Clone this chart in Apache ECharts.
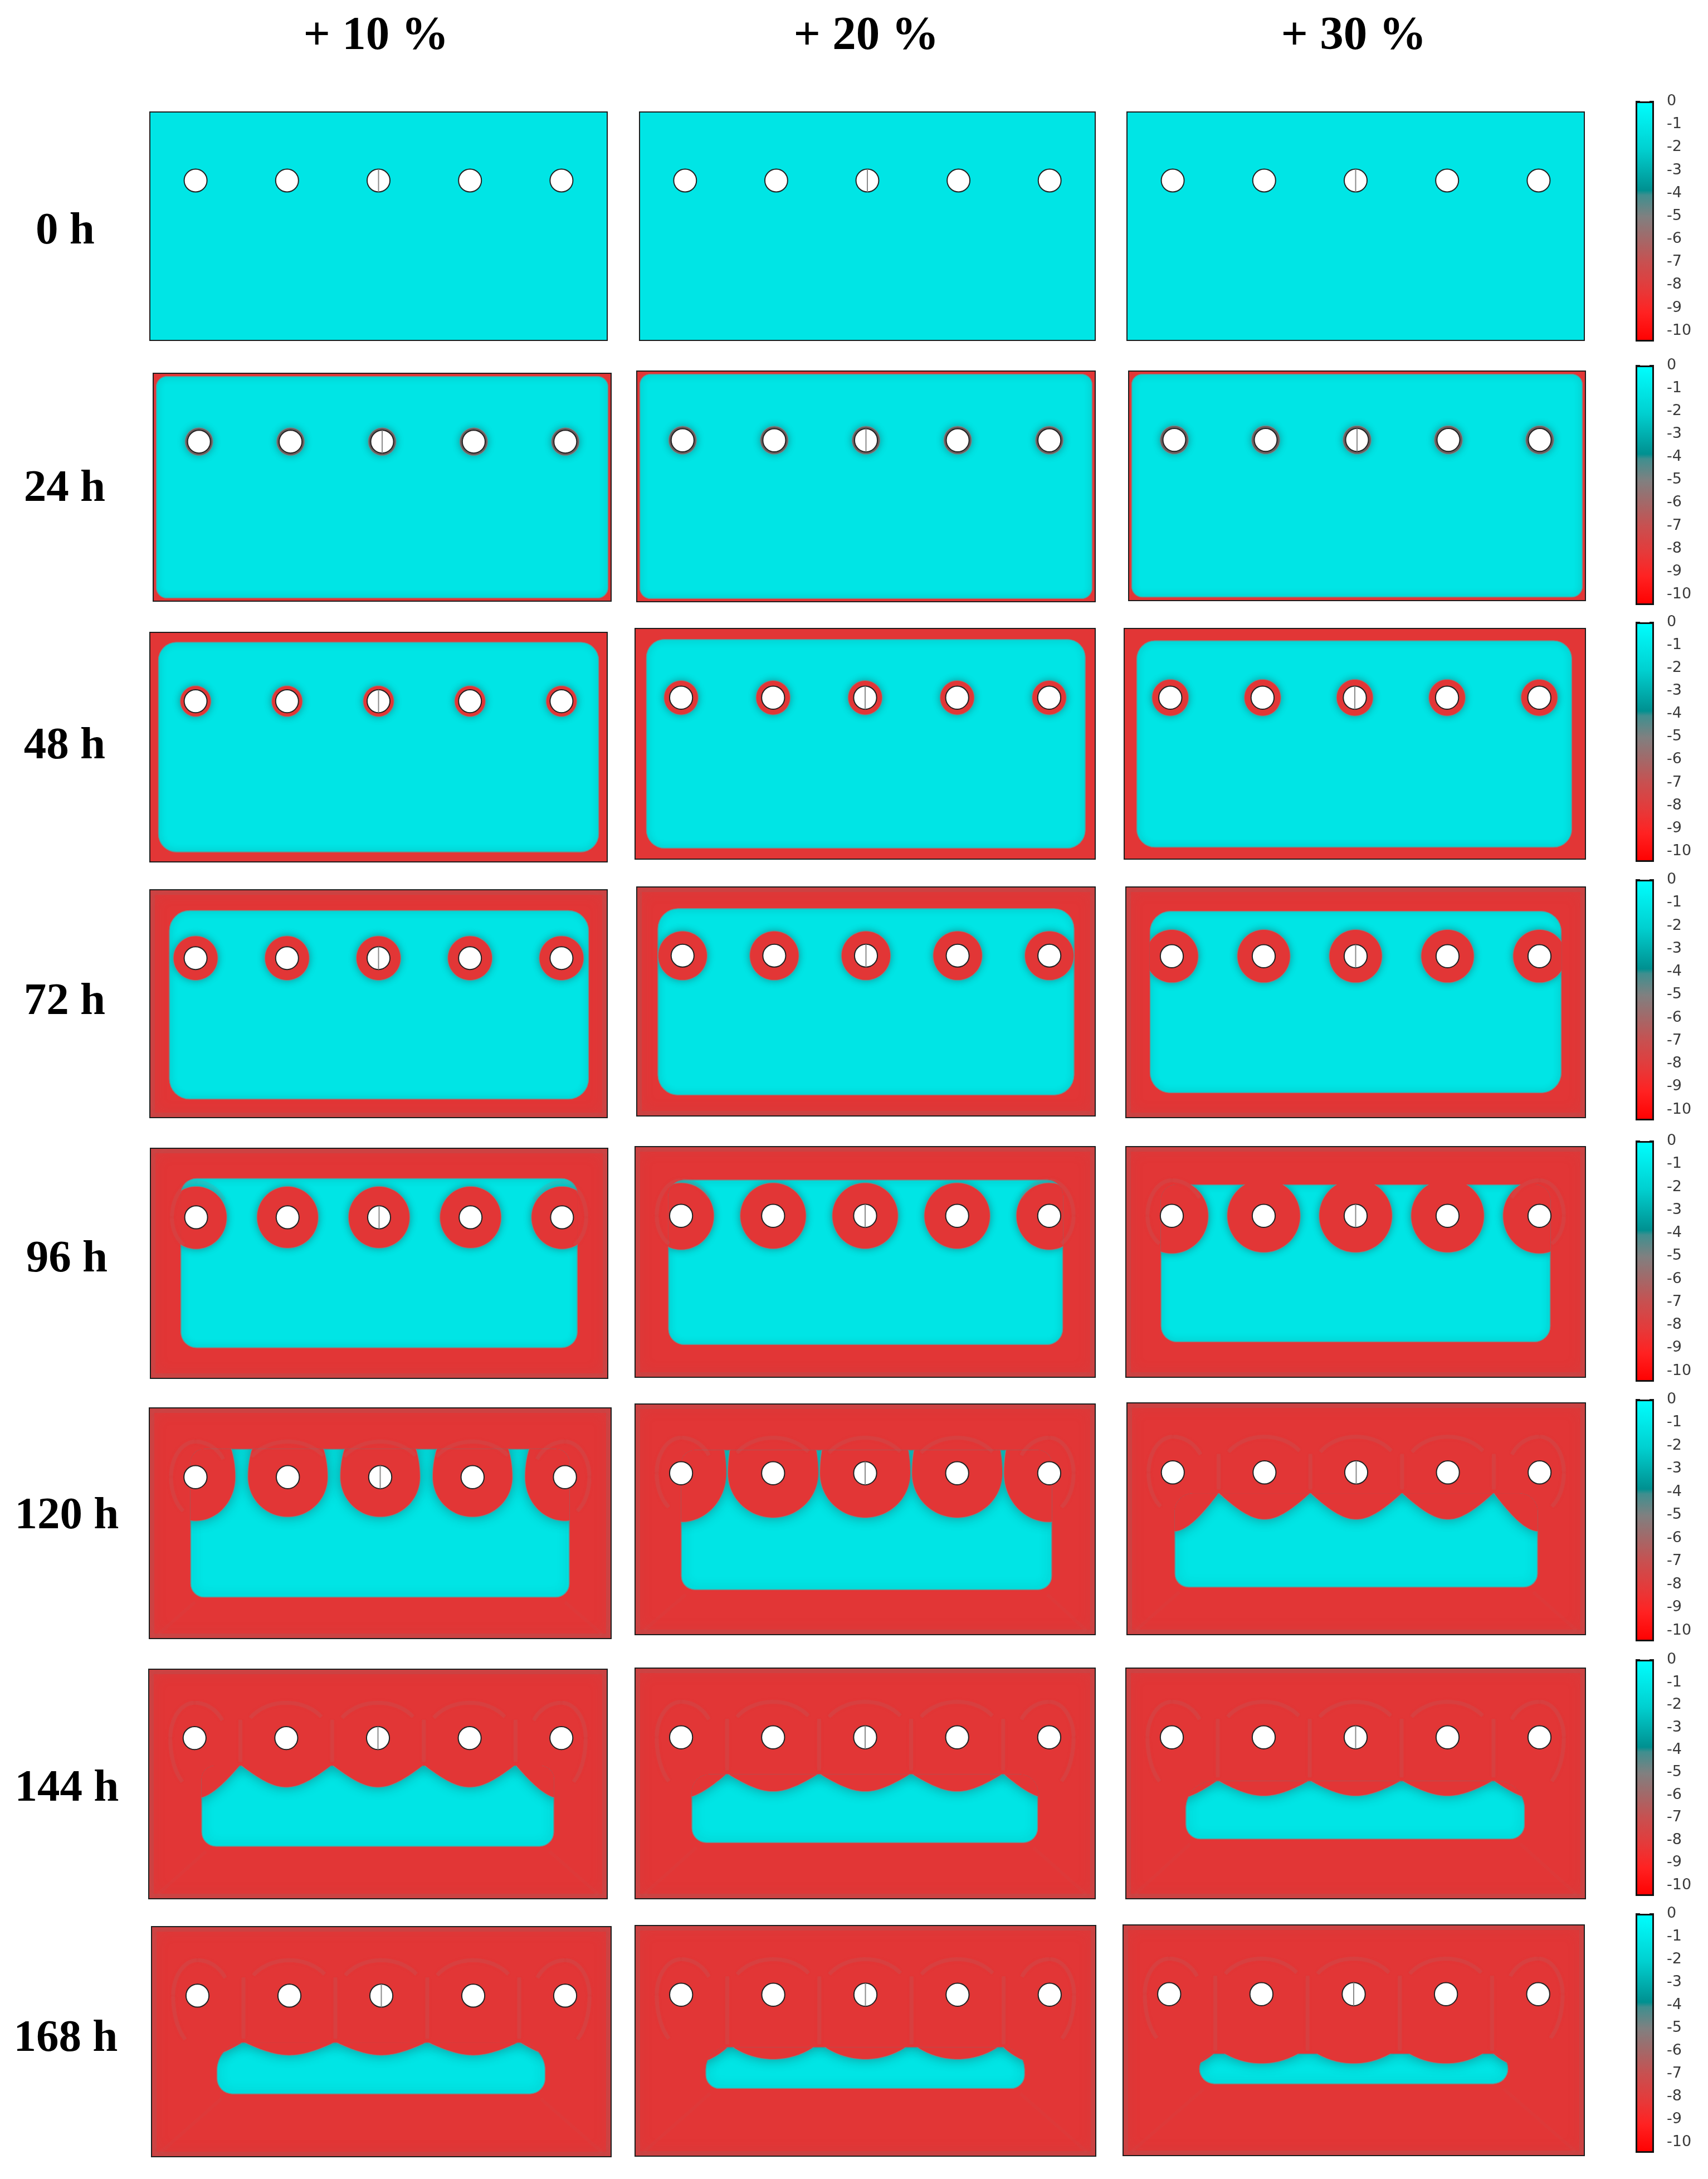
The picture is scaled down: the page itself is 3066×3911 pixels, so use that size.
<!DOCTYPE html>
<html>
<head>
<meta charset="utf-8">
<title>Chloride front</title>
<style>
html, body { margin: 0; padding: 0; background: #fff; }
#main { width: 3066px; height: 3911px; }
</style>
<script src="https://cdn.jsdelivr.net/npm/echarts@6/dist/echarts.min.js"></script>
</head>
<body>
<div id="main"></div>
<script>
// labels
var strainLabels = ['+ 10 %', '+ 20 %', '+ 30 %'];
var timeLabels = ['0 h', '24 h', '48 h', '72 h', '96 h', '120 h', '144 h', '168 h'];
var colorTicks = [0, -1, -2, -3, -4, -5, -6, -7, -8, -9, -10];
var colorEnd = -10.47;

// model section, 100 x 50, depth measured from the top face
var holeX = [10, 30, 50, 70, 90];
var holeDepth = 15;
var holeRadius = 2.5;

// sound (cyan) zone: rows are hours, columns are strain
var frontTop = [[0, 0, 0], [0.6, 0.6, 0.6], [2.1, 2.3, 2.6], [4.5, 4.64, 5.2], [6.5, 7.2, 8.2], [8.9, 10, 19.5], [21, 23, 24.5], [25.2, 26.4, 27.9]];
var frontBottom = [[0, 0, 0], [0.6, 0.6, 0.7], [2.1, 2.3, 2.5], [4, 4.5, 5.3], [6.6, 7, 7.6], [8.9, 9.7, 10.2], [11.35, 12.1, 12.9], [13.6, 14.6, 15.5]];
var frontLeft = [[0, 0, 0], [0.6, 0.6, 0.6], [1.8, 2.4, 2.66], [4.2, 4.55, 5.2], [6.6, 7.2, 7.6], [8.9, 10, 10.4], [11.5, 12.3, 13], [14.2, 15.3, 16.5]];
var frontRight = [[0, 0, 0], [0.6, 0.6, 0.6], [1.8, 2.1, 2.9], [4, 4.55, 5.2], [6.6, 7, 7.6], [9, 9.4, 10.4], [11.6, 12.45, 13.2], [14.3, 15.4, 16.5]];
var cornerTop = [[0, 0, 0], [2.4, 2.4, 2.4], [4, 4, 4], [4.5, 4.5, 4.5], [3.5, 3.5, 3.5], [3, 3, 4], [3, 4, 6], [6, 4.8, 3.3]];
var cornerBottom = [[0, 0, 0], [2.4, 2.4, 2.4], [4, 4, 4], [4.5, 4.5, 4.5], [3.5, 3.5, 3.5], [3, 3, 3], [3.2, 3.2, 3.2], [3.4, 3, 3.3]];

// attacked zone round each hole: half width, depth below the hole, height above it
var lobeWidth = [[0, 0, 0], [2.95, 2.95, 3], [3.3, 3.65, 3.9], [4.8, 5.3, 5.7], [6.65, 7.1, 7.9], [8.6, 9.8, 0], [0, 0, 0], [0, 15, 15.5]];
var lobeBelow = [[0, 0, 0], [2.95, 2.95, 3], [3.3, 3.65, 3.9], [4.8, 5.3, 5.7], [6.65, 7.1, 7.9], [8.6, 9.6, 10.1], [10.67, 11.7, 12.66], [12.9, 13.95, 15]];
var lobeAbove = [[0, 0, 0], [2.95, 2.95, 3], [3.3, 3.65, 3.9], [4.8, 5.3, 5.7], [6.65, 7.1, 7.9], [13.8, 17, 11], [11, 12, 13], [13, 14, 15]];
// later lobes are straight sided with a round bottom: side slope and bottom rounding, outer lobes steeper
var lobeSlope = [[0, 0, 0], [0, 0, 0], [0, 0, 0], [0, 0, 0], [0, 0, 0], [0, 0, 1.1], [0.94, 0.75, 0.7], [0.6, 0, 0]];
var lobeRound = [[0, 0, 0], [0, 0, 0], [0, 0, 0], [0, 0, 0], [0, 0, 0], [0, 0, 7], [7, 7, 8], [8, 0, 0]];
var outerSlope = [[0, 0, 0], [0, 0, 0], [0, 0, 0], [0, 0, 0], [0, 0, 0], [0, 0, 1.6], [1.42, 1.04, 0.88], [0.75, 0, 0]];
var outerScale = [1, 1, 1, 1, 1.03, 1.1, 1, 1.1];
var seamEnd = [[0, 0, 0], [0, 0, 0], [0, 0, 0], [0, 0, 0], [0, 0, 0], [0, 0, 19.3], [20.8, 22.8, 24.3], [25, 26.4, 27.9]];
var haloLower = [0, 0, 0, 0, 7, 8.5, 11, 11];

// colour scale stops, top to bottom
var scaleStops = [[0, '#00ffff'], [0.2, '#00d0d0'], [0.37, '#009090'], [0.39, '#3f8f8f'], [0.48, '#808080'], [0.67, '#c85050'], [0.78, '#e53a3a'], [0.88, '#ff2222'], [1, '#ff0000']];

// page layout in pixels
var panelBoxes = [
    [[269, 1090, 201, 611], [1148, 1966, 201, 611], [2023, 2844, 201, 611]],
    [[275, 1097, 670, 1079], [1143, 1966, 666, 1080], [2026, 2846, 666, 1078]],
    [[269, 1090, 1135, 1547], [1140, 1966, 1128, 1542], [2018, 2846, 1128, 1542]],
    [[269, 1090, 1597, 2006], [1143, 1966, 1592, 2003], [2021, 2846, 1592, 2006]],
    [[270, 1091, 2061, 2474], [1140, 1966, 2058, 2472], [2021, 2846, 2058, 2472]],
    [[268, 1097, 2527, 2941], [1140, 1966, 2520, 2934], [2023, 2846, 2518, 2934]],
    [[267, 1090, 2996, 3408], [1140, 1966, 2994, 3408], [2021, 2846, 2994, 3408]],
    [[272, 1097, 3458, 3871], [1140, 1967, 3456, 3870], [2016, 2844, 3455, 3869]]
];
var scaleBoxes = [[182, 613], [656, 1086], [1117, 1547], [1579, 2011], [2048, 2480], [2512, 2946], [2979, 3403], [3435, 3864]];
var strainX = [675, 1555, 2430];
var timeX = [117, 116, 116, 116, 120, 120, 120, 118];
var timeY = [416, 878, 1340, 1799, 2261, 2722, 3211, 3660];

var RED = '#e23636';
var CYAN = '#00e5e5';
var HALO = 'rgba(170,120,120,0.16)';

function ellipseLobe(api, x, w, below, above) {
    var pts = [];
    for (var a = 0; a < 360; a += 4) {
        var rad = a * Math.PI / 180;
        var s = Math.sin(rad);
        pts.push(api.coord([x + w * Math.cos(rad), holeDepth + (s > 0 ? below : above) * s]));
    }
    return pts;
}

function straightLobe(api, x, below, slope, round) {
    var pts = [];
    for (var dx = -10.2; dx <= 10.2; dx += 0.3) {
        pts.push(api.coord([x + dx, holeDepth + below - slope * (Math.sqrt(dx * dx + round * round) - round)]));
    }
    pts.push(api.coord([x + 10.2, 0]));
    pts.push(api.coord([x - 10.2, 0]));
    return pts;
}

function arcPoints(api, x, rx, ry, from, to) {
    var pts = [];
    for (var a = from; a <= to; a += 6) {
        var rad = a * Math.PI / 180;
        pts.push(api.coord([x + rx * Math.cos(rad), holeDepth + ry * Math.sin(rad)]));
    }
    return pts;
}

function rectBetween(api, x0, y0, x1, y1, r) {
    var a = api.coord([x0, y0]);
    var b = api.coord([x1, y1]);
    return { x: a[0], y: a[1], width: b[0] - a[0], height: b[1] - a[1], r: r };
}

function panelRenderer(row, col) {
    return function (params, api) {
        var plate = rectBetween(api, 0, 0, 100, 50, 0);
        var unit = plate.width / 100;
        var kids = [{ type: 'rect', shape: plate, style: { fill: row === 0 ? CYAN : RED } }];

        // greyer rim of the plate in the late stages
        if (row >= 3) {
            kids.push({
                type: 'group',
                clipPath: { type: 'rect', shape: plate },
                children: [{
                    type: 'rect', shape: plate,
                    style: { fill: 'none', stroke: 'rgba(140,110,110,0.2)', lineWidth: 18, shadowBlur: 24, shadowColor: 'rgba(140,110,110,0.5)' }
                }]
            });
        }

        // sound zone: rounded box with the attacked lobes cut from it
        if (row > 0) {
            var rt = cornerTop[row][col] * unit, rb = cornerBottom[row][col] * unit;
            var box = rectBetween(api, frontLeft[row][col], frontTop[row][col], 100 - frontRight[row][col], 50 - frontBottom[row][col], [rt, rt, rb, rb]);
            var blur = row >= 5 ? 20 : 13;
            var inner = [
                { type: 'rect', shape: box, style: { fill: CYAN } },
                { type: 'rect', shape: box, style: { fill: 'none', stroke: '#6a9494', lineWidth: 3, shadowBlur: blur, shadowColor: '#0f9a9c' } }
            ];
            var below = lobeBelow[row][col], slope = lobeSlope[row][col], round = lobeRound[row][col];
            var shapes = holeX.map(function (x, i) {
                var isOuter = i === 0 || i === holeX.length - 1;
                if (slope > 0) {
                    if (!isOuter) {
                        return straightLobe(api, x, below, slope, round);
                    }
                    // outer lobes share the inner cusp but fall away faster
                    var rise = Math.sqrt(100 + round * round) - round;
                    var outer = outerSlope[row][col];
                    return straightLobe(api, x, below - slope * rise + outer * rise, outer, round);
                }
                return ellipseLobe(api, x, lobeWidth[row][col], below * (isOuter ? outerScale[row] : 1), lobeAbove[row][col]);
            });
            shapes.forEach(function (pts) {
                inner.push({
                    type: 'polygon', shape: { points: pts },
                    style: { fill: RED, stroke: '#6f8f8f', lineWidth: 2.5, shadowBlur: blur, shadowColor: '#0f9a9c' }
                });
            });
            shapes.forEach(function (pts) {
                inner.push({ type: 'polygon', shape: { points: pts }, style: { fill: row === 1 ? '#6b5a5a' : RED } });
            });
            kids.push({ type: 'group', clipPath: { type: 'rect', shape: box }, children: inner });
        }

        // faint contour left inside the red zone
        if (row >= 4) {
            var haloStyle = { fill: 'none', stroke: HALO, lineWidth: 7, shadowBlur: 10, shadowColor: HALO };
            var first = holeX[0], last = holeX[holeX.length - 1];
            var low = haloLower[row];
            [[first, 5.3, 7.7, 180, 270], [first, 7, 7.7, 270, 330], [first, 5.3, low, 120, 180],
                [last, 5.3, 7.7, 270, 360], [last, 7, 7.7, 210, 270], [last, 5.3, low, 0, 60]].forEach(function (a) {
                kids.push({ type: 'polyline', shape: { points: arcPoints(api, a[0], a[1], a[2], a[3], a[4]) }, style: haloStyle });
            });
            if (row >= 5) {
                holeX.slice(1, 4).forEach(function (x) {
                    kids.push({ type: 'polyline', shape: { points: arcPoints(api, x, 9.6, 7.7, 215, 325) }, style: haloStyle });
                });
                // corner creases below the sound zone
                [[frontLeft[row][col] + 1, 2], [100 - frontRight[row][col] - 1, 98]].forEach(function (c) {
                    var a0 = api.coord([c[0], 50 - frontBottom[row][col] + 1]);
                    var a1 = api.coord([c[1], 49]);
                    kids.push({ type: 'line', shape: { x1: a0[0], y1: a0[1], x2: a1[0], y2: a1[1] }, style: { stroke: 'rgba(165,125,125,0.06)', lineWidth: 6, shadowBlur: 8, shadowColor: 'rgba(165,125,125,0.06)' } });
                });
            }
            if (seamEnd[row][col] > 0) {
                [20, 40, 60, 80].forEach(function (x) {
                    var s0 = api.coord([x, 11]);
                    var s1 = api.coord([x, seamEnd[row][col] - 0.6]);
                    kids.push({ type: 'line', shape: { x1: s0[0], y1: s0[1], x2: s1[0], y2: s1[1] }, style: haloStyle });
                });
            }
        }

        // rebar holes
        holeX.forEach(function (x) {
            var c = api.coord([x, holeDepth]);
            var s = api.size([holeRadius, holeRadius]);
            kids.push({
                type: 'ellipse',
                shape: { cx: c[0], cy: c[1], rx: s[0], ry: s[1] },
                style: { fill: '#fff', stroke: '#222', lineWidth: 2 }
            });
        });
        var mid = api.coord([holeX[2], holeDepth - holeRadius]);
        var midEnd = api.coord([holeX[2], holeDepth + holeRadius]);
        kids.push({ type: 'line', shape: { x1: mid[0], y1: mid[1], x2: midEnd[0], y2: midEnd[1] }, style: { stroke: '#8a8a8a', lineWidth: 2 } });

        kids.push({ type: 'rect', shape: plate, style: { fill: 'none', stroke: '#1d1d1d', lineWidth: 2 } });
        return { type: 'group', children: kids };
    };
}

var grids = [], xAxes = [], yAxes = [], series = [], titles = [];

panelBoxes.forEach(function (boxes, row) {
    boxes.forEach(function (b, col) {
        var idx = grids.length;
        grids.push({ left: b[0], width: b[1] - b[0], top: b[2], height: b[3] - b[2] });
        xAxes.push({ gridIndex: idx, type: 'value', min: 0, max: 100, show: false });
        yAxes.push({ gridIndex: idx, type: 'value', min: 0, max: 50, inverse: true, show: false });
        series.push({
            type: 'custom',
            xAxisIndex: idx,
            yAxisIndex: yAxes.length - 1,
            data: [[0, 0]],
            silent: true,
            clip: false,
            renderItem: panelRenderer(row, col)
        });
    });
});

// colour scale next to every row
scaleBoxes.forEach(function (b) {
    var idx = grids.length;
    grids.push({ left: 2936, width: 33, top: b[0], height: b[1] - b[0] });
    xAxes.push({ gridIndex: idx, type: 'category', data: ['scale'], show: false });
    var tickStyle = { show: true, inside: true, length: 8, customValues: colorTicks, lineStyle: { color: '#111', width: 3 } };
    yAxes.push({
        gridIndex: idx, type: 'value', position: 'left', min: colorEnd, max: 0,
        axisLine: { show: false }, splitLine: { show: false }, axisLabel: { show: false }, axisTick: tickStyle
    });
    yAxes.push({
        gridIndex: idx, type: 'value', position: 'right', min: colorEnd, max: 0,
        axisLine: { show: false }, splitLine: { show: false }, axisTick: tickStyle,
        axisLabel: { show: true, customValues: colorTicks, margin: 23, color: '#3a3a3a', fontFamily: 'DejaVu Sans', fontSize: 27 }
    });
    series.push({
        type: 'bar',
        xAxisIndex: idx,
        yAxisIndex: yAxes.length - 2,
        data: [colorEnd],
        barWidth: '100%',
        clip: false,
        silent: true,
        z: 1,
        itemStyle: {
            borderColor: '#111',
            borderWidth: 3,
            color: new echarts.graphic.LinearGradient(0, 0, 0, 1, scaleStops.map(function (s) {
                return { offset: s[0], color: s[1] };
            }))
        }
    });
});

var headFont = { fontFamily: 'Liberation Serif', fontWeight: 'bold', fontSize: 85, color: '#000' };
var sideFont = { fontFamily: 'Liberation Serif', fontWeight: 'bold', fontSize: 81, color: '#000' };
strainLabels.forEach(function (t, i) {
    titles.push({ text: t, left: strainX[i], top: 66, textAlign: 'center', textVerticalAlign: 'middle', padding: 0, textStyle: headFont });
});
timeLabels.forEach(function (t, i) {
    titles.push({ text: t, left: timeX[i], top: timeY[i], textAlign: 'center', textVerticalAlign: 'middle', padding: 0, textStyle: sideFont });
});

var chart = echarts.init(document.getElementById('main'));
chart.setOption({
    animation: false,
    backgroundColor: '#fff',
    title: titles,
    grid: grids,
    xAxis: xAxes,
    yAxis: yAxes,
    series: series
});
</script>
</body>
</html>
